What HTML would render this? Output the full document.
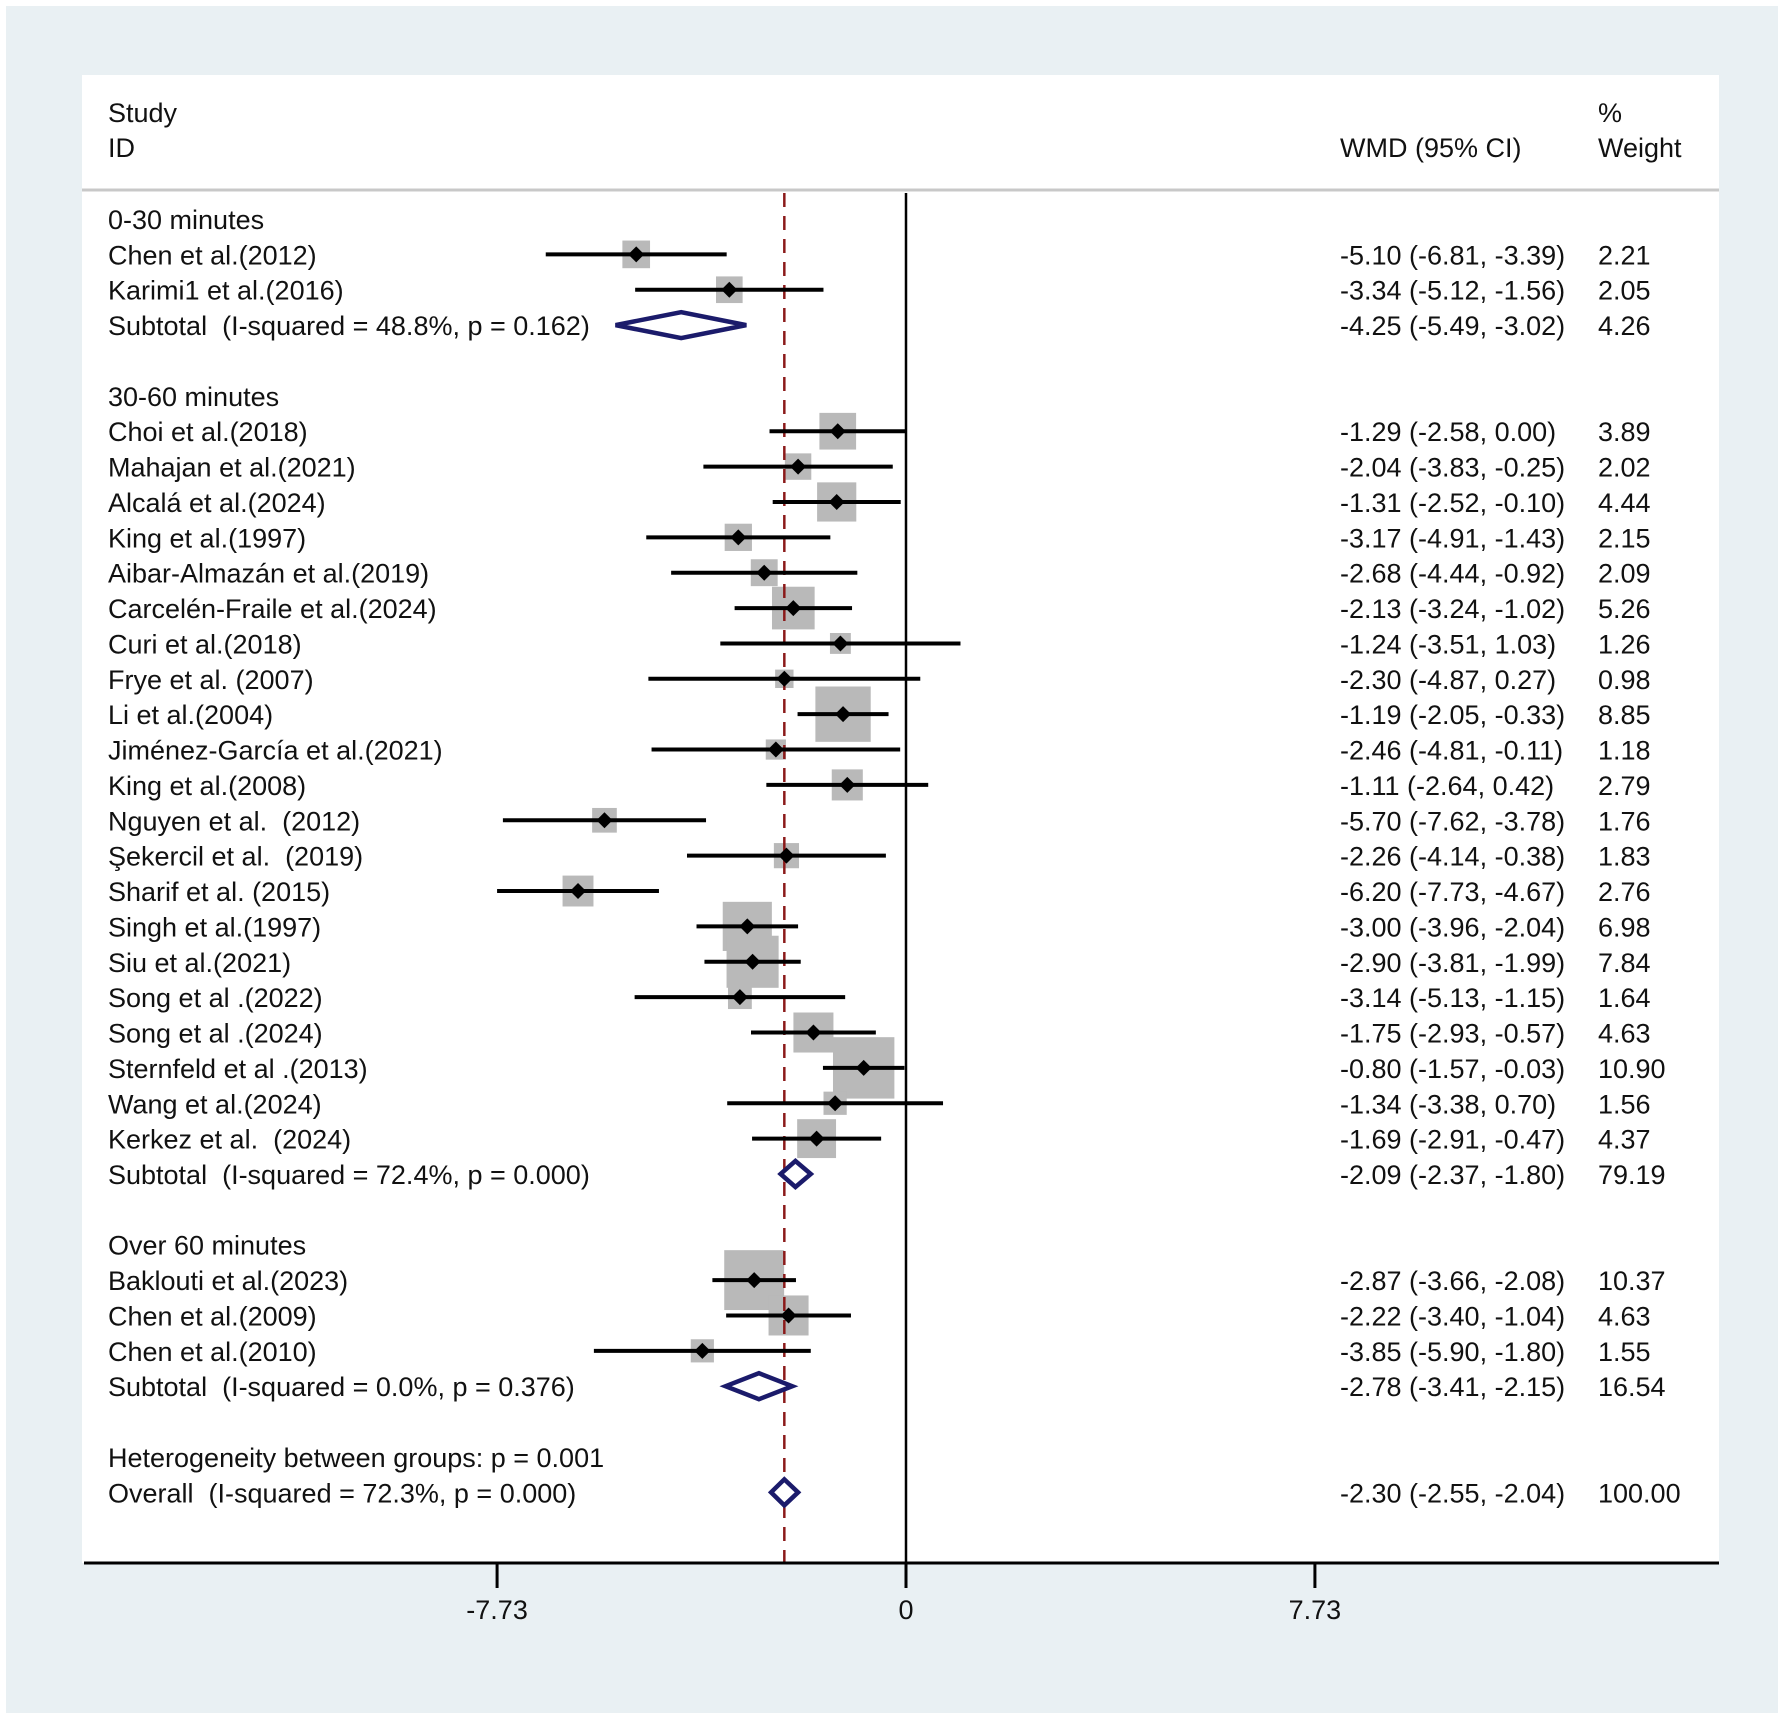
<!DOCTYPE html>
<html><head><meta charset="utf-8"><style>
html,body{margin:0;padding:0;background:#fff}
svg{display:block}
text{font-family:"Liberation Sans",Arial,sans-serif;font-size:27px;fill:#111;white-space:pre}
</style></head><body>
<svg id="chart" width="1784" height="1719" viewBox="0 0 1784 1719" xmlns="http://www.w3.org/2000/svg" xml:space="preserve">
<rect x="0" y="0" width="1784" height="1719" fill="#ffffff"/>
<rect x="6" y="6" width="1772" height="1707" fill="#e9f0f3"/>
<rect x="82" y="75" width="1637" height="1488" fill="#ffffff"/>
<line x1="82" y1="190" x2="1719" y2="190" stroke="#c8c8c8" stroke-width="3"/>
<text x="108" y="122">Study</text>
<text x="108" y="157">ID</text>
<text x="1340" y="157">WMD (95% CI)</text>
<text x="1598" y="122">%</text>
<text x="1598" y="157">Weight</text>
<g id="marks"></g>
</svg>
<script>
const rowTypes = ["h","s","s","t","b","h","s","s","s","s","s","s","s","s","s","s","s","s","s","s","s","s","s","s","s","s","s","t","b","h","s","s","s","t","b","g","o"];
const labels = ["0-30 minutes","Chen et al.(2012)","Karimi1 et al.(2016)","Subtotal  (I-squared = 48.8%, p = 0.162)","","30-60 minutes","Choi et al.(2018)","Mahajan et al.(2021)","Alcalá et al.(2024)","King et al.(1997)","Aibar-Almazán et al.(2019)","Carcelén-Fraile et al.(2024)","Curi et al.(2018)","Frye et al. (2007)","Li et al.(2004)","Jiménez-García et al.(2021)","King et al.(2008)","Nguyen et al.  (2012)","Şekercil et al.  (2019)","Sharif et al. (2015)","Singh et al.(1997)","Siu et al.(2021)","Song et al .(2022)","Song et al .(2024)","Sternfeld et al .(2013)","Wang et al.(2024)","Kerkez et al.  (2024)","Subtotal  (I-squared = 72.4%, p = 0.000)","","Over 60 minutes","Baklouti et al.(2023)","Chen et al.(2009)","Chen et al.(2010)","Subtotal  (I-squared = 0.0%, p = 0.376)","","Heterogeneity between groups: p = 0.001","Overall  (I-squared = 72.3%, p = 0.000)"];
const es = [null,-5.10,-3.34,-4.25,null,null,-1.29,-2.04,-1.31,-3.17,-2.68,-2.13,-1.24,-2.30,-1.19,-2.46,-1.11,-5.70,-2.26,-6.20,-3.00,-2.90,-3.14,-1.75,-0.80,-1.34,-1.69,-2.09,null,null,-2.87,-2.22,-3.85,-2.78,null,null,-2.30];
const lo = [null,-6.81,-5.12,-5.49,null,null,-2.58,-3.83,-2.52,-4.91,-4.44,-3.24,-3.51,-4.87,-2.05,-4.81,-2.64,-7.62,-4.14,-7.73,-3.96,-3.81,-5.13,-2.93,-1.57,-3.38,-2.91,-2.37,null,null,-3.66,-3.40,-5.90,-3.41,null,null,-2.55];
const hi = [null,-3.39,-1.56,-3.02,null,null,0.00,-0.25,-0.10,-1.43,-0.92,-1.02,1.03,0.27,-0.33,-0.11,0.42,-3.78,-0.38,-4.67,-2.04,-1.99,-1.15,-0.57,-0.03,0.70,-0.47,-1.80,null,null,-2.08,-1.04,-1.80,-2.15,null,null,-2.04];
const weights = [null,2.21,2.05,4.26,null,null,3.89,2.02,4.44,2.15,2.09,5.26,1.26,0.98,8.85,1.18,2.79,1.76,1.83,2.76,6.98,7.84,1.64,4.63,10.90,1.56,4.37,79.19,null,null,10.37,4.63,1.55,16.54,null,null,100.00];
const ticks = [-7.73, 0, 7.73];
const overall = -2.30;

const X0 = 906, PX = 52.9;
function xs(v){ return X0 + v*PX; }
function ys(i){ return 219 + i*35.37; }
const NS = "http://www.w3.org/2000/svg";
const g = document.getElementById('marks');
function el(tag, attrs, parent){ const e=document.createElementNS(NS,tag); for(const k in attrs) e.setAttribute(k,attrs[k]); (parent||g).appendChild(e); return e; }
function f2(v){ return v.toFixed(2); }

rowTypes.forEach((t,i)=>{
  if(t!=="s") return;
  const s = 18.6*Math.sqrt(weights[i]);
  const r = el('rect',{x:xs(es[i])-s/2,y:ys(i)-s/2,width:s,height:s,fill:'#b9b9b9'});
  
  
});
const zl = el('line',{x1:xs(0),y1:193,x2:xs(0),y2:1563,stroke:'#000','stroke-width':2.5});


const dl = el('line',{x1:xs(overall),y1:193,x2:xs(overall),y2:1563,stroke:'#8b1a1a','stroke-width':2.5,'stroke-dasharray':'14,9'});



rowTypes.forEach((t,i)=>{
  const y = ys(i);
  if(labels[i]){
    const tx = el('text',{x:108,y:y+10});
    tx.textContent = labels[i];
    
    
  }
  if(es[i]===null) return;
  const ci = el('text',{x:1340,y:y+10});
  ci.textContent = f2(es[i])+" ("+f2(lo[i])+", "+f2(hi[i])+")";
  
  
  const wt = el('text',{x:1598,y:y+10});
  wt.textContent = f2(weights[i]);
  
  
  if(t==="s"){
    const ln = el('line',{x1:xs(lo[i]),y1:y,x2:xs(hi[i]),y2:y,stroke:'#000','stroke-width':4});
    
    
    const cx=xs(es[i]), d=8;
    const pt = el('polygon',{points:`${cx-d},${y} ${cx},${y-d} ${cx+d},${y} ${cx},${y+d}`,fill:'#000'});
    
    
  } else {
    const h=13;
    const dm = el('polygon',{points:`${xs(lo[i])},${y} ${xs(es[i])},${y-h} ${xs(hi[i])},${y} ${xs(es[i])},${y+h}`,fill:'#fff',stroke:'#1b1b6b','stroke-width':4.5});
    
    
  }
});

const ax = el('line',{x1:84,y1:1563,x2:1719,y2:1563,stroke:'#000','stroke-width':3});


ticks.forEach(v=>{
  const tk = el('line',{x1:xs(v),y1:1563,x2:xs(v),y2:1588,stroke:'#000','stroke-width':3});
  
  
  const tl = el('text',{x:xs(v),y:1619,'text-anchor':'middle'});
  tl.textContent = String(v);
  
  
});
</script>
</body></html>
